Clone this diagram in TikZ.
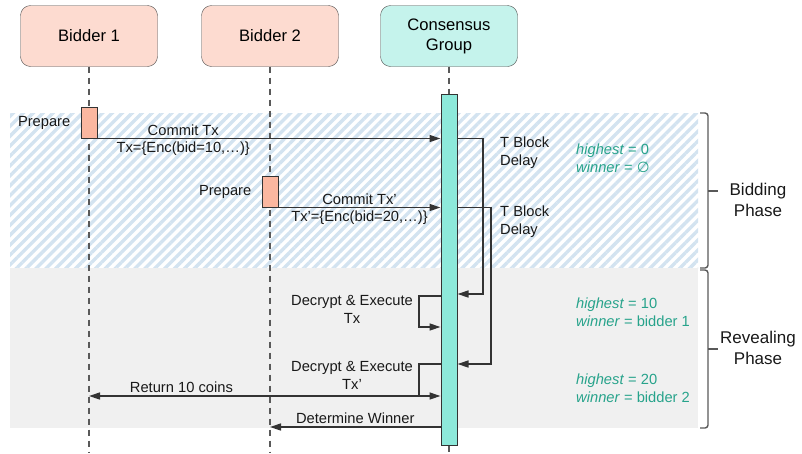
\documentclass[tikz,border=0pt]{standalone}
\usepackage{fontspec}
\setmainfont{Liberation Sans}
\newfontfamily\symfont{DejaVu Sans}
\usepackage{tikz}
\usetikzlibrary{arrows.meta,positioning,patterns.meta}

\definecolor{bidfill}{HTML}{FDDBD0}
\definecolor{prepfill}{HTML}{FBB7A0}
\definecolor{groupfill}{HTML}{C5F3EC}
\definecolor{barfill}{HTML}{8DE9DA}
\definecolor{hatchblue}{HTML}{D3E3F0}
\definecolor{revealgray}{HTML}{F0F0F0}
\definecolor{stategreen}{HTML}{27A38B}
\definecolor{linegray}{HTML}{333333}

\begin{document}
\begin{tikzpicture}[
      x=1pt, y=-1pt,
      txt/.style={font=\fontsize{14.7}{18}\selectfont, text=black!90, inner sep=1pt, align=center},
      actor/.style={draw=black!70, rounded corners=10pt, minimum width=137pt,
        minimum height=61pt, align=center, font=\fontsize{16.6}{20}\selectfont},
      bidder/.style={actor, fill=bidfill},
      group/.style={actor, fill=groupfill},
      prepbar/.style={draw=black!80, fill=prepfill, minimum width=16pt,
        minimum height=31pt, inner sep=0pt, line width=1pt},
      activebar/.style={draw=black!80, fill=barfill, minimum width=16pt,
        minimum height=351pt, inner sep=0pt, line width=1pt},
      lifeline/.style={draw=black!65, line width=1.1pt, dash pattern=on 6pt off 5pt},
      msg/.style={-{Triangle[length=11pt, width=7pt]}, line width=1.4pt, draw=linegray},
      state/.style={txt, text=stategreen, align=left, anchor=west},
      phase/.style={txt, font=\fontsize{17}{21}\selectfont},
      brace/.style={draw=black!65, line width=1.4pt, rounded corners=3pt}
    ]
    \useasboundingbox (0,0) rectangle (802,453);

    % phase backgrounds
    \fill[pattern={Lines[angle=45, distance=7pt, line width=3.4pt]}, pattern color=hatchblue]
      (10,113) rectangle (698,268);
    \fill[revealgray] (10,268) rectangle (698,428);

    % actors and lifelines
    \node[bidder] (bidderA) at (89,36) {Bidder 1};
    \node[bidder] (bidderB) at (270,36) {Bidder 2};
    \node[group] (consensus) at (449,36) {Consensus\\Group};

    \coordinate (endA) at (89,453);
    \coordinate (endB) at (270,453);
    \coordinate (endC) at (449,453);

    \node[activebar] (bar) at (449,269.5) {};
    \draw[lifeline] (bidderA) -- (endA);
    \draw[lifeline] (bidderB) -- (endB);
    \draw[lifeline] (consensus) -- (bar);
    \draw[lifeline] (bar) -- (endC);

    % bidding
    \node[prepbar] (prepA) at (89,122.5) {};
    \node[prepbar] (prepB) at (270,191.5) {};
    \node[txt, left=9pt of prepA] (prepLabelA) {Prepare};
    \node[txt, left=9pt of prepB] (prepLabelB) {Prepare};

    \draw[msg] (prepA.south east) -- (bar.west |- prepA.south)
      node[txt, pos=0.25, above=1pt] (commitA) {Commit Tx}
      node[txt, pos=0.25, below=2pt] (txA) {Tx=\{Enc(bid=10,\ldots)\}};
    \draw[msg] (prepB.south east) -- (bar.west |- prepB.south)
      node[txt, midway, above=1pt] (commitB) {Commit Tx’}
      node[txt, midway, below=2pt] (txB) {Tx’=\{Enc(bid=20,\ldots)\}};

    \coordinate (delayA) at (483,294);
    \coordinate (delayB) at (491,364);
    \draw[msg] (bar.east |- prepA.south) -| (delayA) -- (bar.east |- delayA);
    \draw[msg] (bar.east |- prepB.south) -| (delayB) -- (bar.east |- delayB);
    \node[txt, anchor=west, align=left] (delayLabelA) at (499,153) {T Block\\Delay};
    \node[txt, anchor=west, align=left] (delayLabelB) at (499,222) {T Block\\Delay};

    % revealing
    \coordinate (decA) at (419,296);
    \coordinate (decAend) at (419,327);
    \coordinate (decB) at (419,364);
    \coordinate (decBend) at (419,396);
    \draw[msg] (bar.west |- decA) -- (decA) -- (decAend) -- (bar.west |- decAend);
    \draw[msg] (bar.west |- decB) -- (decB) -- (decBend) -- (bar.west |- decBend);
    \node[txt] (decLabelA) at (352,309) {Decrypt \& Execute\\Tx};
    \node[txt] (decLabelB) at (352,375) {Decrypt \& Execute\\Tx’};

    \draw[msg] (decBend) -- (endA |- decBend)
      node[txt, pos=0.72, above=2pt] (returnLabel) {Return 10 coins};
    \coordinate (win) at (360,427);
    \draw[msg] (bar.west |- win) -- (endB |- win)
      node[txt, midway, above=2pt] (winLabel) {Determine Winner};

    % auction state
    \node[state] (stateA) at (575,158) {\textit{highest} = 0\\\textit{winner} = {\symfont ∅}};
    \node[state] (stateB) at (575,312) {\textit{highest} = 10\\\textit{winner} = bidder 1};
    \node[state] (stateC) at (575,388) {\textit{highest} = 20\\\textit{winner} = bidder 2};

    % phases
    \draw[brace] (700,113) -- (708,113) -- (708,268) -- (700,268);
    \draw[brace] (708,191) -- (718,191);
    \draw[brace] (700,270) -- (708,270) -- (708,428) -- (700,428);
    \draw[brace] (708,349) -- (718,349);
    \node[phase] (bidPhase) at (758,200) {Bidding\\Phase};
    \node[phase] (revealPhase) at (758,348) {Revealing\\Phase};
  \end{tikzpicture}
\end{document}
